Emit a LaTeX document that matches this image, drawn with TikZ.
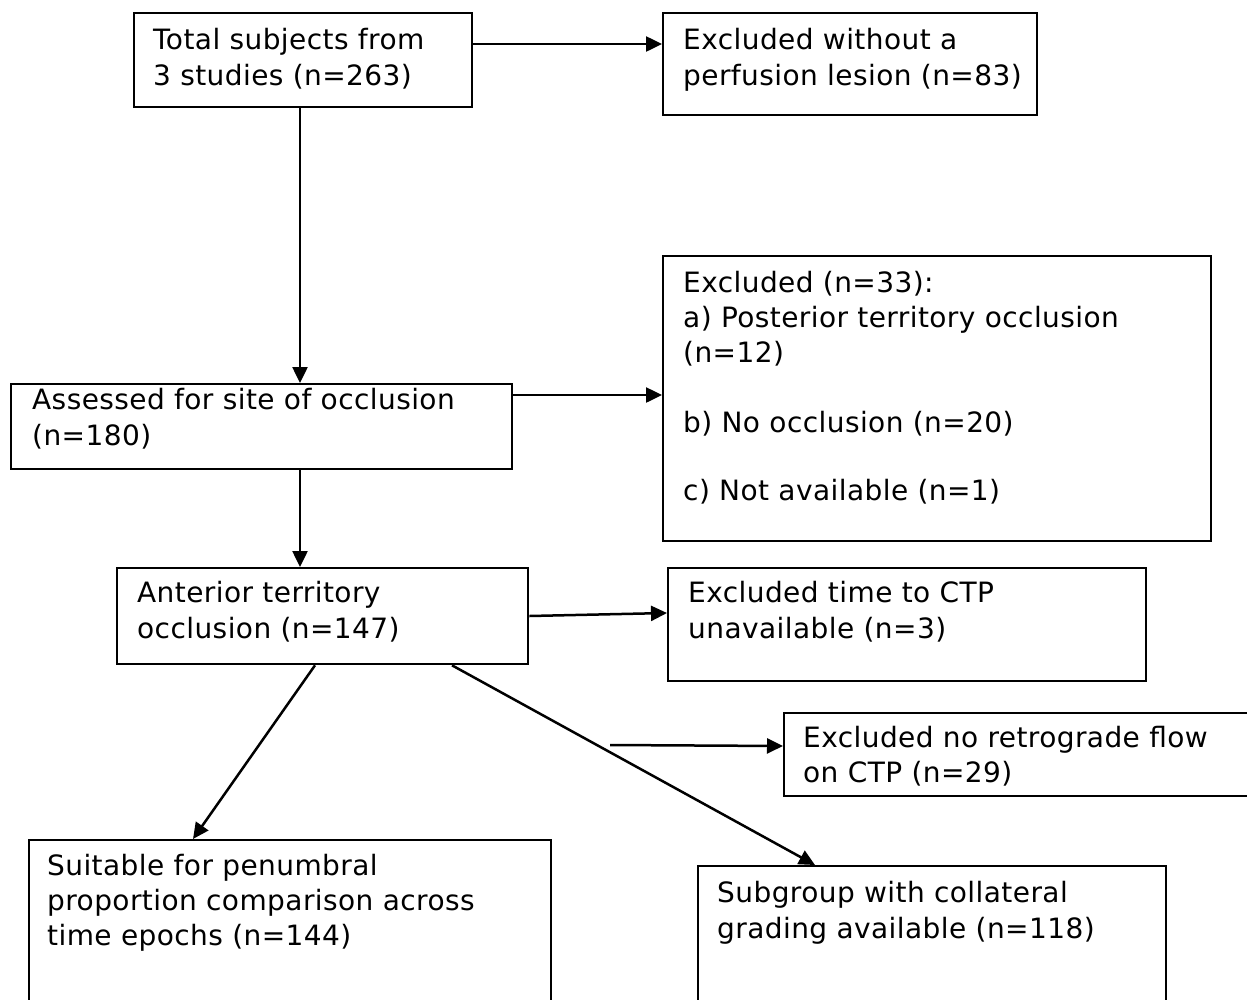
\documentclass[tikz,border=0pt]{standalone}
\usepackage{fontspec}
\setmainfont{DejaVu Sans}[LetterSpace=1.5]
\usetikzlibrary{arrows.meta,calc}

\begin{document}
\begin{tikzpicture}[x=1pt,y=-1pt,
  box/.style={draw, line width=2.3pt, anchor=north west, inner sep=0pt},
  txt/.style={anchor=north west, inner sep=0pt, align=left,
    font=\fontsize{28}{36}\selectfont},
  arr/.style={line width=2.5pt, -{Triangle[length=16pt,width=15pt]}}]

\useasboundingbox (0,0) rectangle (1247,999);
\clip (0,0) rectangle (1247,999);

% boxes
\node[box, minimum width=338, minimum height=94]  (a) at (133,12)  {};
\node[box, minimum width=374, minimum height=102] (b) at (662,12)  {};
\node[box, minimum width=501, minimum height=85]  (c) at (10,383)  {};
\node[box, minimum width=548, minimum height=285] (d) at (662,255) {};
\node[box, minimum width=411, minimum height=96]  (e) at (116,567) {};
\node[box, minimum width=478, minimum height=113] (f) at (667,567) {};
\node[box, minimum width=522, minimum height=220] (g) at (28,839)  {};
\node[box, minimum width=468, minimum height=220] (h) at (697,865) {};
\node[box, minimum width=520, minimum height=83]  (i) at (783,712) {};

% box texts
\node[txt] (at) at ($(a.north west)+(20,16)$) {Total subjects from\\3 studies (n=263)};
\node[txt] (bt) at ($(b.north west)+(21,16)$) {Excluded without a\\perfusion lesion (n=83)};
\node[txt] (ct) at ($(c.north west)+(22,5)$)  {Assessed for site of occlusion\\(n=180)};
\node[txt, font=\fontsize{28}{35}\selectfont] (dt) at ($(d.north west)+(21,16)$)
  {Excluded (n=33):\\a) Posterior territory occlusion\\(n=12)\\[35pt]b) No occlusion (n=20)\\[33pt]c) Not available (n=1)};
\node[txt] (et) at ($(e.north west)+(21,14)$) {Anterior territory\\occlusion (n=147)};
\node[txt] (ft) at ($(f.north west)+(21,14)$) {Excluded time to CTP\\unavailable (n=3)};
\node[txt, font=\fontsize{28}{35}\selectfont] (gt) at ($(g.north west)+(19,15)$)
  {Suitable for penumbral\\proportion comparison across\\time epochs (n=144)};
\node[txt] (ht) at ($(h.north west)+(20,16)$) {Subgroup with collateral\\grading available (n=118)};
\begin{scope}
  \clip (i.north west) rectangle (1247,795);
  \node[txt, font=\fontsize{28}{35}\selectfont] (it) at ($(i.north west)+(20,14)$)
    {Excluded no retrograde flow\\on CTP (n=29)};
\end{scope}

% connectors
\draw[arr] (a.east |- 0,44) -- (b.west |- 0,44);
\draw[arr] (a.south -| 300,0) -- (c.north -| 300,0);
\draw[arr] (c.east |- 0,395) -- (d.west |- 0,395);
\draw[arr] (c.south -| 300,0) -- (e.north -| 300,0);
\draw[arr] (e.east |- 0,616) -- (f.west |- 0,613);
\draw[arr] (e.south -| 315,0) -- (g.north -| 193,0);
\draw[arr] (e.south -| 452,0) -- (h.north -| 815,0);
\coordinate (fs) at (610,745);
\draw[arr] (fs) -- (i.west |- 0,746);
\end{tikzpicture}
\end{document}
